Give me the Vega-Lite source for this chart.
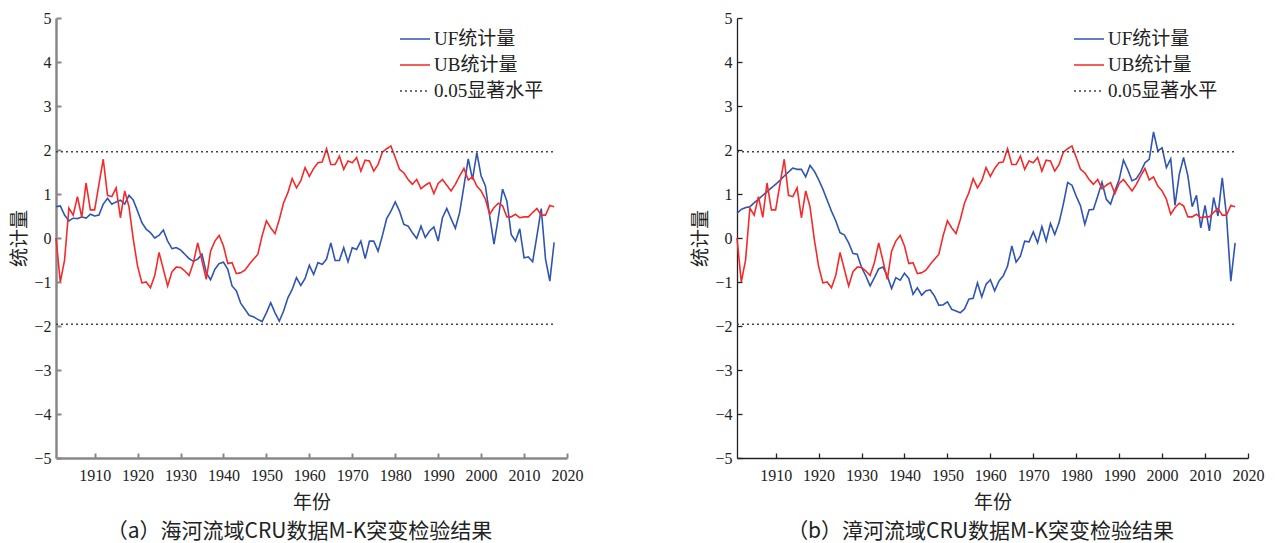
{
"$schema": "https://vega.github.io/schema/vega-lite/v6.json",
"background": "white",
"padding": {"left": 10, "top": 10, "right": 5, "bottom": 5},
"config": {
  "view": {"stroke": null},
  "font": "Liberation Serif",
  "axis": {"grid": false, "labelFont": "Liberation Serif", "labelFontSize": 16, "labelColor": "#222", "titleFont": "Noto Sans CJK SC", "titleFontSize": 19, "titleFontWeight": "normal", "titleColor": "#222", "tickSize": -5, "labelOverlap": false, "labelFlush": false},
  "axisX": {"labelPadding": 14, "titlePadding": 10},
  "axisY": {"labelPadding": 10, "titlePadding": 4},
  "legend": {"orient": "none", "title": null, "symbolType": "stroke", "symbolSize": 900, "symbolStrokeWidth": 1.5, "labelFont": "Liberation Serif, Noto Sans CJK SC", "labelFontSize": 19, "labelColor": "#222", "rowPadding": -12, "padding": 0, "labelOffset": 3},
  "title": {"orient": "bottom", "anchor": "middle", "font": "Noto Sans CJK SC", "fontSize": 21, "fontWeight": "normal", "color": "#222", "offset": 9, "dx": -12}
},
"datasets": {
"sig": [
{"year":1901,"v":1.96,"s":"sig","g":"u"},{"year":2017,"v":1.96,"s":"sig","g":"u"},
{"year":1901,"v":-1.96,"s":"sig","g":"l"},{"year":2017,"v":-1.96,"s":"sig","g":"l"}
],
"a": [
{"year":1901,"UF":0.71,"UB":0.0},{"year":1902,"UF":0.73,"UB":-1.0},{"year":1903,"UF":0.52,"UB":-0.5},{"year":1904,"UF":0.39,"UB":0.68},{"year":1905,"UF":0.45,"UB":0.52},
{"year":1906,"UF":0.44,"UB":0.94},{"year":1907,"UF":0.48,"UB":0.47},{"year":1908,"UF":0.45,"UB":1.25},{"year":1909,"UF":0.54,"UB":0.64},{"year":1910,"UF":0.5,"UB":0.64},
{"year":1911,"UF":0.52,"UB":1.22},{"year":1912,"UF":0.77,"UB":1.79},{"year":1913,"UF":0.9,"UB":0.97},{"year":1914,"UF":0.77,"UB":0.94},{"year":1915,"UF":0.82,"UB":1.14},
{"year":1916,"UF":0.86,"UB":0.46},{"year":1917,"UF":0.77,"UB":1.07},{"year":1918,"UF":0.97,"UB":0.71},{"year":1919,"UF":0.86,"UB":-0.03},{"year":1920,"UF":0.61,"UB":-0.64},
{"year":1921,"UF":0.35,"UB":-1.02},{"year":1922,"UF":0.2,"UB":-1.0},{"year":1923,"UF":0.12,"UB":-1.13},{"year":1924,"UF":0.0,"UB":-0.85},{"year":1925,"UF":0.06,"UB":-0.33},
{"year":1926,"UF":0.18,"UB":-0.71},{"year":1927,"UF":-0.07,"UB":-1.09},{"year":1928,"UF":-0.24,"UB":-0.77},{"year":1929,"UF":-0.22,"UB":-0.66},{"year":1930,"UF":-0.27,"UB":-0.67},
{"year":1931,"UF":-0.37,"UB":-0.75},{"year":1932,"UF":-0.47,"UB":-0.85},{"year":1933,"UF":-0.53,"UB":-0.56},{"year":1934,"UF":-0.48,"UB":-0.11},{"year":1935,"UF":-0.37,"UB":-0.52},
{"year":1936,"UF":-0.79,"UB":-0.94},{"year":1937,"UF":-0.95,"UB":-0.3},{"year":1938,"UF":-0.71,"UB":-0.07},{"year":1939,"UF":-0.58,"UB":0.06},{"year":1940,"UF":-0.55,"UB":-0.18},
{"year":1941,"UF":-0.71,"UB":-0.58},{"year":1942,"UF":-1.09,"UB":-0.56},{"year":1943,"UF":-1.2,"UB":-0.81},{"year":1944,"UF":-1.48,"UB":-0.79},{"year":1945,"UF":-1.62,"UB":-0.73},
{"year":1946,"UF":-1.76,"UB":-0.6},{"year":1947,"UF":-1.79,"UB":-0.48},{"year":1948,"UF":-1.85,"UB":-0.37},{"year":1949,"UF":-1.9,"UB":0.05},{"year":1950,"UF":-1.7,"UB":0.39},
{"year":1951,"UF":-1.47,"UB":0.23},{"year":1952,"UF":-1.7,"UB":0.1},{"year":1953,"UF":-1.89,"UB":0.42},{"year":1954,"UF":-1.66,"UB":0.8},{"year":1955,"UF":-1.36,"UB":1.03},
{"year":1956,"UF":-1.17,"UB":1.35},{"year":1957,"UF":-0.9,"UB":1.14},{"year":1958,"UF":-1.08,"UB":1.3},{"year":1959,"UF":-0.92,"UB":1.6},{"year":1960,"UF":-0.62,"UB":1.4},
{"year":1961,"UF":-0.83,"UB":1.58},{"year":1962,"UF":-0.56,"UB":1.71},{"year":1963,"UF":-0.6,"UB":1.73},{"year":1964,"UF":-0.48,"UB":2.03},{"year":1965,"UF":-0.11,"UB":1.67},
{"year":1966,"UF":-0.51,"UB":1.67},{"year":1967,"UF":-0.51,"UB":1.86},{"year":1968,"UF":-0.22,"UB":1.56},{"year":1969,"UF":-0.54,"UB":1.75},{"year":1970,"UF":-0.22,"UB":1.71},
{"year":1971,"UF":-0.26,"UB":1.83},{"year":1972,"UF":-0.07,"UB":1.52},{"year":1973,"UF":-0.47,"UB":1.77},{"year":1974,"UF":-0.07,"UB":1.75},{"year":1975,"UF":-0.07,"UB":1.52},
{"year":1976,"UF":-0.3,"UB":1.67},{"year":1977,"UF":0.05,"UB":1.95},{"year":1978,"UF":0.44,"UB":2.03},{"year":1979,"UF":0.61,"UB":2.09},{"year":1980,"UF":0.82,"UB":1.83},
{"year":1981,"UF":0.61,"UB":1.56},{"year":1982,"UF":0.31,"UB":1.48},{"year":1983,"UF":0.27,"UB":1.33},{"year":1984,"UF":0.12,"UB":1.22},{"year":1985,"UF":-0.01,"UB":1.33},
{"year":1986,"UF":0.27,"UB":1.12},{"year":1987,"UF":0.01,"UB":1.2},{"year":1988,"UF":0.16,"UB":1.26},{"year":1989,"UF":0.25,"UB":1.01},{"year":1990,"UF":-0.07,"UB":1.24},
{"year":1991,"UF":0.46,"UB":1.33},{"year":1992,"UF":0.67,"UB":1.2},{"year":1993,"UF":0.44,"UB":1.07},{"year":1994,"UF":0.22,"UB":1.22},{"year":1995,"UF":0.58,"UB":1.41},
{"year":1996,"UF":1.18,"UB":1.58},{"year":1997,"UF":1.8,"UB":1.32},{"year":1998,"UF":1.33,"UB":1.39},{"year":1999,"UF":1.94,"UB":1.18},{"year":2000,"UF":1.41,"UB":1.07},
{"year":2001,"UF":1.18,"UB":0.88},{"year":2002,"UF":0.5,"UB":0.54},{"year":2003,"UF":-0.14,"UB":0.69},{"year":2004,"UF":0.46,"UB":0.79},{"year":2005,"UF":1.11,"UB":0.73},
{"year":2006,"UF":0.84,"UB":0.48},{"year":2007,"UF":0.08,"UB":0.48},{"year":2008,"UF":-0.07,"UB":0.54},{"year":2009,"UF":0.21,"UB":0.46},{"year":2010,"UF":-0.45,"UB":0.48},
{"year":2011,"UF":-0.43,"UB":0.48},{"year":2012,"UF":-0.54,"UB":0.58},{"year":2013,"UF":0.05,"UB":0.67},{"year":2014,"UF":0.67,"UB":0.52},{"year":2015,"UF":-0.48,"UB":0.52},
{"year":2016,"UF":-0.98,"UB":0.74},{"year":2017,"UF":-0.1,"UB":0.71}
],
"b": [
{"year":1901,"UF":0.56,"UB":0.0},{"year":1902,"UF":0.65,"UB":-1.0},{"year":1903,"UF":0.69,"UB":-0.5},{"year":1904,"UF":0.71,"UB":0.68},{"year":1905,"UF":0.8,"UB":0.52},
{"year":1906,"UF":0.88,"UB":0.94},{"year":1907,"UF":0.97,"UB":0.47},{"year":1908,"UF":1.05,"UB":1.25},{"year":1909,"UF":1.14,"UB":0.64},{"year":1910,"UF":1.22,"UB":0.64},
{"year":1911,"UF":1.31,"UB":1.22},{"year":1912,"UF":1.41,"UB":1.79},{"year":1913,"UF":1.5,"UB":0.97},{"year":1914,"UF":1.59,"UB":0.94},{"year":1915,"UF":1.56,"UB":1.14},
{"year":1916,"UF":1.56,"UB":0.46},{"year":1917,"UF":1.39,"UB":1.07},{"year":1918,"UF":1.65,"UB":0.71},{"year":1919,"UF":1.52,"UB":-0.03},{"year":1920,"UF":1.33,"UB":-0.64},
{"year":1921,"UF":1.11,"UB":-1.02},{"year":1922,"UF":0.86,"UB":-1.0},{"year":1923,"UF":0.61,"UB":-1.13},{"year":1924,"UF":0.39,"UB":-0.85},{"year":1925,"UF":0.12,"UB":-0.33},
{"year":1926,"UF":0.07,"UB":-0.71},{"year":1927,"UF":-0.11,"UB":-1.09},{"year":1928,"UF":-0.35,"UB":-0.77},{"year":1929,"UF":-0.37,"UB":-0.66},{"year":1930,"UF":-0.67,"UB":-0.67},
{"year":1931,"UF":-0.86,"UB":-0.75},{"year":1932,"UF":-1.09,"UB":-0.85},{"year":1933,"UF":-0.9,"UB":-0.56},{"year":1934,"UF":-0.7,"UB":-0.11},{"year":1935,"UF":-0.66,"UB":-0.52},
{"year":1936,"UF":-0.86,"UB":-0.94},{"year":1937,"UF":-1.15,"UB":-0.3},{"year":1938,"UF":-0.9,"UB":-0.07},{"year":1939,"UF":-0.96,"UB":0.06},{"year":1940,"UF":-0.8,"UB":-0.18},
{"year":1941,"UF":-0.92,"UB":-0.58},{"year":1942,"UF":-1.28,"UB":-0.56},{"year":1943,"UF":-1.13,"UB":-0.81},{"year":1944,"UF":-1.3,"UB":-0.79},{"year":1945,"UF":-1.2,"UB":-0.73},
{"year":1946,"UF":-1.18,"UB":-0.6},{"year":1947,"UF":-1.32,"UB":-0.48},{"year":1948,"UF":-1.53,"UB":-0.37},{"year":1949,"UF":-1.52,"UB":0.05},{"year":1950,"UF":-1.45,"UB":0.39},
{"year":1951,"UF":-1.62,"UB":0.23},{"year":1952,"UF":-1.66,"UB":0.1},{"year":1953,"UF":-1.7,"UB":0.42},{"year":1954,"UF":-1.61,"UB":0.8},{"year":1955,"UF":-1.39,"UB":1.03},
{"year":1956,"UF":-1.37,"UB":1.35},{"year":1957,"UF":-1.02,"UB":1.14},{"year":1958,"UF":-1.34,"UB":1.3},{"year":1959,"UF":-1.05,"UB":1.6},{"year":1960,"UF":-0.95,"UB":1.4},
{"year":1961,"UF":-1.2,"UB":1.58},{"year":1962,"UF":-0.98,"UB":1.71},{"year":1963,"UF":-0.86,"UB":1.73},{"year":1964,"UF":-0.64,"UB":2.03},{"year":1965,"UF":-0.18,"UB":1.67},
{"year":1966,"UF":-0.55,"UB":1.67},{"year":1967,"UF":-0.41,"UB":1.86},{"year":1968,"UF":-0.07,"UB":1.56},{"year":1969,"UF":-0.09,"UB":1.75},{"year":1970,"UF":0.14,"UB":1.71},
{"year":1971,"UF":-0.11,"UB":1.83},{"year":1972,"UF":0.26,"UB":1.52},{"year":1973,"UF":-0.07,"UB":1.77},{"year":1974,"UF":0.33,"UB":1.75},{"year":1975,"UF":0.08,"UB":1.52},
{"year":1976,"UF":0.35,"UB":1.67},{"year":1977,"UF":0.77,"UB":1.95},{"year":1978,"UF":1.26,"UB":2.03},{"year":1979,"UF":1.2,"UB":2.09},{"year":1980,"UF":0.95,"UB":1.83},
{"year":1981,"UF":0.73,"UB":1.56},{"year":1982,"UF":0.31,"UB":1.48},{"year":1983,"UF":0.64,"UB":1.33},{"year":1984,"UF":0.65,"UB":1.22},{"year":1985,"UF":0.95,"UB":1.33},
{"year":1986,"UF":1.27,"UB":1.12},{"year":1987,"UF":0.88,"UB":1.2},{"year":1988,"UF":0.77,"UB":1.26},{"year":1989,"UF":1.07,"UB":1.01},{"year":1990,"UF":1.33,"UB":1.24},
{"year":1991,"UF":1.77,"UB":1.33},{"year":1992,"UF":1.55,"UB":1.2},{"year":1993,"UF":1.3,"UB":1.07},{"year":1994,"UF":1.35,"UB":1.22},{"year":1995,"UF":1.5,"UB":1.41},
{"year":1996,"UF":1.71,"UB":1.58},{"year":1997,"UF":1.79,"UB":1.32},{"year":1998,"UF":2.41,"UB":1.39},{"year":1999,"UF":1.98,"UB":1.18},{"year":2000,"UF":2.05,"UB":1.07},
{"year":2001,"UF":1.6,"UB":0.88},{"year":2002,"UF":1.8,"UB":0.54},{"year":2003,"UF":0.74,"UB":0.69},{"year":2004,"UF":1.45,"UB":0.79},{"year":2005,"UF":1.83,"UB":0.73},
{"year":2006,"UF":1.41,"UB":0.48},{"year":2007,"UF":0.71,"UB":0.48},{"year":2008,"UF":0.97,"UB":0.54},{"year":2009,"UF":0.23,"UB":0.46},{"year":2010,"UF":0.74,"UB":0.48},
{"year":2011,"UF":0.16,"UB":0.48},{"year":2012,"UF":0.92,"UB":0.58},{"year":2013,"UF":0.5,"UB":0.67},{"year":2014,"UF":1.37,"UB":0.52},{"year":2015,"UF":0.5,"UB":0.52},
{"year":2016,"UF":-0.98,"UB":0.74},{"year":2017,"UF":-0.11,"UB":0.71}
]
},
"spacing": 170,
"bounds": "flush",
"resolve": {"scale": {"color": "independent", "strokeDash": "independent"}, "legend": {"color": "independent", "strokeDash": "independent"}},
"hconcat": [
{
  "width": 511, "height": 440,
  "title": {"text": "（a）海河流域CRU数据M-K突变检验结果"},
  "encoding": {
    "x": {"field": "year", "type": "quantitative", "scale": {"domain": [1901, 2020], "nice": false, "zero": false}, "axis": {"title": "年份", "values": [1910,1920,1930,1940,1950,1960,1970,1980,1990,2000,2010,2020], "format": "d", "domainColor": "#888888", "domainWidth": 2.5, "tickColor": "#888888", "tickWidth": 2}},
    "y": {"field": "v", "type": "quantitative", "scale": {"domain": [-5, 5], "nice": false}, "axis": {"title": "统计量", "values": [-5,-4,-3,-2,-1,0,1,2,3,4,5], "domainColor": "#888888", "domainWidth": 2.5, "tickColor": "#888888", "tickWidth": 2}},
    "color": {"field": "s", "type": "nominal", "scale": {"domain": ["UF","UB","sig"], "range": ["#2f55b0","#f42a2a","#444444"]}, "legend": {"legendX": 343, "legendY": 5, "labelExpr": "datum.label == 'UF' ? 'UF统计量' : datum.label == 'UB' ? 'UB统计量' : '0.05显著水平'"}},
    "strokeDash": {"field": "s", "type": "nominal", "scale": {"domain": ["UF","UB","sig"], "range": [[1,0],[1,0],[2,3]]}, "legend": {"legendX": 343, "legendY": 5, "labelExpr": "datum.label == 'UF' ? 'UF统计量' : datum.label == 'UB' ? 'UB统计量' : '0.05显著水平'"}}
  },
  "layer": [
    {"data": {"name": "a"}, "transform": [{"fold": ["UF","UB"], "as": ["s","v"]}], "mark": {"type": "line", "strokeWidth": 1.6}, "encoding": {}},
    {"data": {"name": "sig"}, "mark": {"type": "line", "strokeWidth": 1.3}, "encoding": {"detail": {"field": "g"}}}
  ]
},
{
  "width": 511, "height": 440,
  "title": {"text": "（b）漳河流域CRU数据M-K突变检验结果"},
  "encoding": {
    "x": {"field": "year", "type": "quantitative", "scale": {"domain": [1901, 2020], "nice": false, "zero": false}, "axis": {"title": "年份", "values": [1910,1920,1930,1940,1950,1960,1970,1980,1990,2000,2010,2020], "format": "d", "domainColor": "#222222", "domainWidth": 1.3, "tickColor": "#222222", "tickWidth": 1.3}},
    "y": {"field": "v", "type": "quantitative", "scale": {"domain": [-5, 5], "nice": false}, "axis": {"title": "统计量", "values": [-5,-4,-3,-2,-1,0,1,2,3,4,5], "domainColor": "#222222", "domainWidth": 1.3, "tickColor": "#222222", "tickWidth": 1.3}},
    "color": {"field": "s", "type": "nominal", "scale": {"domain": ["UF","UB","sig"], "range": ["#2f55b0","#f42a2a","#444444"]}, "legend": {"legendX": 336, "legendY": 5, "labelExpr": "datum.label == 'UF' ? 'UF统计量' : datum.label == 'UB' ? 'UB统计量' : '0.05显著水平'"}},
    "strokeDash": {"field": "s", "type": "nominal", "scale": {"domain": ["UF","UB","sig"], "range": [[1,0],[1,0],[2,3]]}, "legend": {"legendX": 336, "legendY": 5, "labelExpr": "datum.label == 'UF' ? 'UF统计量' : datum.label == 'UB' ? 'UB统计量' : '0.05显著水平'"}}
  },
  "layer": [
    {"data": {"name": "b"}, "transform": [{"fold": ["UF","UB"], "as": ["s","v"]}], "mark": {"type": "line", "strokeWidth": 1.6}, "encoding": {}},
    {"data": {"name": "sig"}, "mark": {"type": "line", "strokeWidth": 1.3}, "encoding": {"detail": {"field": "g"}}}
  ]
}
]
}
